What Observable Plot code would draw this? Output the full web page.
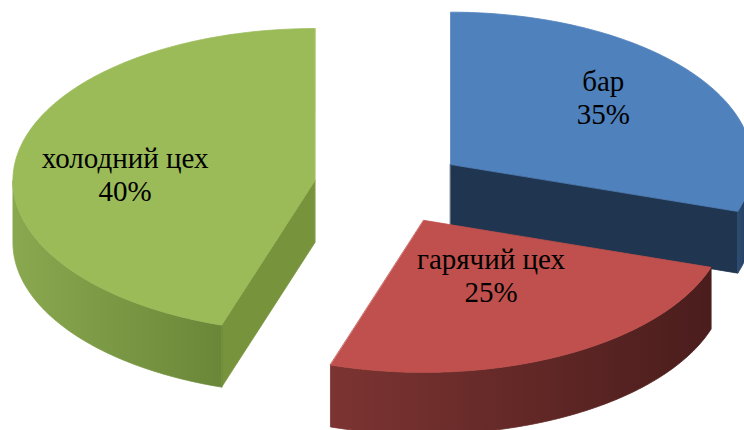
<!DOCTYPE html>
<html>
<head>
<meta charset="utf-8">
<script src="https://cdn.jsdelivr.net/npm/d3@7"></script>
<script src="https://cdn.jsdelivr.net/npm/@observablehq/plot@0.6"></script>
<style>
  html, body { margin: 0; padding: 0; background: #fff; overflow: hidden; }
  #chart { position: relative; }
  #fontprime { position: absolute; left: 2px; top: 405px; font-family: "Liberation Serif"; font-size: 12px; color: #fff; }
</style>
</head>
<body>
<div id="fontprime">холодний цех 40%</div>
<div id="chart"></div>
<script>
// ---- data ----
const categories = ["бар", "гарячий цех", "холодний цех"];
// percentages printed in the data labels
const percentLabels = [35, 25, 40];
// wedge sizes as actually drawn in the reference (measured wedge angles ≈ 108°, 90°, 162°)
const wedgeShares = [30, 25, 45];

// ---- styles ----
const topFill  = ["#4f81bd", "#c0504d", "#9bbb59"];
const cutFill  = ["#1f3550", "#7a2f2d", "#77933c"];
const sideStops = [["#2c4c74", "#1f3550"], ["#7c3432", "#4a1d1c"], ["#8aa84f", "#6a8739"]];

// ---- layout / 3-D view ----
const W = 744, H = 430;
const view = { cx: 389, cy: 186, rx: 302, ry: 152, depth: 62, explode: 0.25 };
const labelPlace = { shift: -5 * Math.PI / 180, radius: [0.67, 0.42, 0.63] };

const rows = categories.map((c, i) => ({ i, category: c, pct: percentLabels[i], share: wedgeShares[i] }));
const arcs = d3.pie().sort(null).value(d => d.share)(rows); // clockwise from 12 o'clock

function project(o, t, r, z) {
  return [view.cx + view.rx * (o[0] + r * Math.sin(t)),
          view.cy - view.ry * (o[1] + r * Math.cos(t)) + view.depth * z];
}
function arcPts(o, a0, a1, z) {
  const n = Math.max(2, Math.ceil(Math.abs(a1 - a0) / (Math.PI / 180)));
  return d3.range(n + 1).map(k => project(o, a0 + (a1 - a0) * k / n, 1, z));
}

arcs.forEach(a => {
  const mid = (a.startAngle + a.endAngle) / 2;
  a.mid = mid;
  a.off = [view.explode * Math.sin(mid), view.explode * Math.cos(mid)];
});

// painter's order: farthest slice first
const order = arcs.slice().sort((a, b) => b.off[1] - a.off[1]);

const faces = [];
const eps = 1e-6;
for (const a of order) {
  const i = a.data.i, o = a.off, s = a.startAngle, e = a.endAngle;
  const c0 = project(o, 0, 0, 0), c1 = project(o, 0, 0, 1);
  // radial cut faces turned toward the viewer
  if (Math.sin(s) < -eps) {
    faces.push({ fill: cutFill[i], pts: [c0, project(o, s, 1, 0), project(o, s, 1, 1), c1] });
  }
  if (Math.sin(e) > eps) {
    faces.push({ fill: cutFill[i], pts: [c0, project(o, e, 1, 0), project(o, e, 1, 1), c1] });
  }
  // outer curved side (front half only)
  const v0 = Math.max(s, Math.PI / 2), v1 = Math.min(e, 3 * Math.PI / 2);
  if (v1 > v0) {
    faces.push({ fill: `url(#side${i})`, pts: arcPts(o, v0, v1, 0).concat(arcPts(o, v1, v0, 1)) });
  }
  // top face
  faces.push({ fill: topFill[i], pts: [c0].concat(arcPts(o, s, e, 0)) });
}

const labels = arcs.map(a => {
  const i = a.data.i;
  const [lx, ly] = project(a.off, a.mid + labelPlace.shift, labelPlace.radius[i], 0);
  return { lx, ly, text: `${a.data.category}\n${a.data.pct}%` };
});

const svg = Plot.plot({
  width: W,
  height: H,
  margin: 0,
  x: { type: "linear", domain: [0, W], range: [0, W], axis: null },
  y: { type: "linear", domain: [0, H], range: [0, H], axis: null },
  marks: [
    ...faces.map(f => Plot.line(f.pts, {
      x: d => d[0], y: d => d[1],
      curve: "linear-closed",
      fill: f.fill, stroke: f.fill, strokeWidth: 0.8
    })),
    Plot.text(labels, {
      x: "lx", y: "ly", text: "text",
      fontFamily: "Liberation Serif",
      fontSize: 29, lineHeight: 1.14,
      fill: "#000", textAnchor: "middle"
    })
  ]
});

svg.setAttribute("font-family", "Liberation Serif");
d3.select(svg).selectAll("text, tspan").attr("font-family", "Liberation Serif");

const defs = d3.select(svg).append("defs");
sideStops.forEach((st, i) => {
  const g = defs.append("linearGradient").attr("id", `side${i}`)
    .attr("x1", 0).attr("x2", 1).attr("y1", 0).attr("y2", 0);
  g.append("stop").attr("offset", 0).attr("stop-color", st[0]);
  g.append("stop").attr("offset", 1).attr("stop-color", st[1]);
});

document.getElementById("chart").appendChild(svg);
</script>
</body>
</html>
